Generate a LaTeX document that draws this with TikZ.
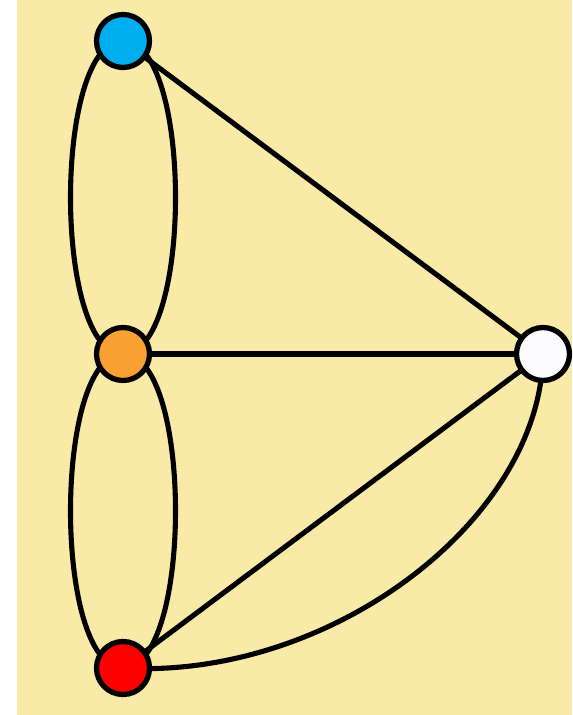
\documentclass[tikz,border=0pt]{standalone}
\usetikzlibrary{backgrounds}
\definecolor{paper}{RGB}{250,234,168}
\definecolor{vblue}{RGB}{0,174,239}
\definecolor{vorange}{RGB}{248,160,50}
\definecolor{vred}{RGB}{255,0,0}
\definecolor{vwhite}{RGB}{252,252,255}
\tikzset{
  vertex/.style={circle, draw=black, line width=3pt, minimum size=1.06cm, inner sep=0pt},
  bridge/.style={draw=black, line width=2.9pt}
}
\begin{document}
\begin{tikzpicture}[x=0.02cm, y=-0.02cm]
\useasboundingbox (0,0) rectangle (572,715);
\node[vertex, fill=vblue] (b) at (123,41) {};
\node[vertex, fill=vorange] (o) at (123,354) {};
\node[vertex, fill=vred] (r) at (123,668) {};
\node[vertex, fill=vwhite] (w) at (543,354) {};
\begin{scope}[on background layer]
  \fill[white] (0,0) rectangle (572,715);
  \fill[paper] (17,0) rectangle (572,715);
  \draw[bridge] (b.center) .. controls +(-70,0) and +(-70,0) .. (o.center);
  \draw[bridge] (b.center) .. controls +(70,0) and +(70,0) .. (o.center);
  \draw[bridge] (o.center) .. controls +(-70,0) and +(-70,0) .. (r.center);
  \draw[bridge] (o.center) .. controls +(70,0) and +(70,0) .. (r.center);
  \draw[bridge] (b.center) -- (w.center);
  \draw[bridge] (o.center) -- (w.center);
  \draw[bridge] (r.center) -- (w.center);
  \draw[bridge] (w.center) .. controls (541,520) and (330,680) .. (r.center);
\end{scope}
\end{tikzpicture}
\end{document}
